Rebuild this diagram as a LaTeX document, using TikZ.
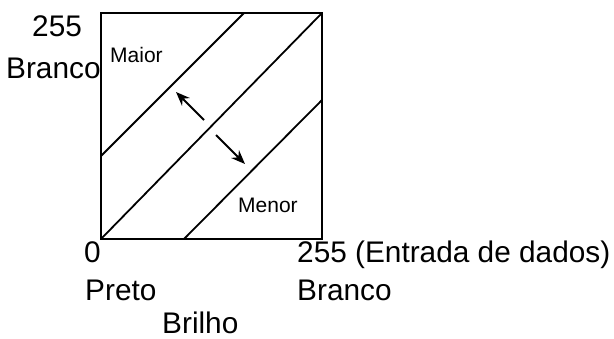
\documentclass[tikz,border=0pt]{standalone}
\usepackage{fontspec}
\setmainfont{Liberation Sans}
\usepackage{tikz}
\usetikzlibrary{arrows.meta, positioning}

\begin{document}
\begin{tikzpicture}[
    x=1pt, y=-1pt,
    biglabel/.style={anchor=base west, inner sep=0pt, font=\fontsize{29.8}{32}\selectfont},
    smalllabel/.style={anchor=base west, inner sep=0pt, font=\fontsize{21}{23}\selectfont},
    frame/.style={draw, line width=2.2pt},
    curve/.style={draw, line width=1.8pt},
    shiftarrow/.style={line width=1.8pt, -{Stealth[length=14pt, width=11pt]}}
]
    \useasboundingbox (0,0) rectangle (614,338);

    % Box corners
    \coordinate (bl) at (101,239);
    \coordinate (br) at (322,239);
    \coordinate (tr) at (322,13);
    \coordinate (tl) at (101,13);
    \draw[frame] (bl) -- (br) -- (tr) -- (tl) -- cycle;

    % Transfer lines
    \coordinate (upA) at (101,156);
    \coordinate (upB) at (244,13);
    \coordinate (loA) at (184,239);
    \coordinate (loB) at (322,100);
    \draw[curve] (upA) -- (upB);
    \draw[curve] (bl) -- (tr);
    \draw[curve] (loA) -- (loB);

    % Arrows
    \coordinate (a1s) at (204,120);
    \coordinate (a1e) at (176,92);
    \coordinate (a2s) at (216,135);
    \coordinate (a2e) at (245,164);
    \draw[shiftarrow] (a1s) -- (a1e);
    \draw[shiftarrow] (a2s) -- (a2e);

    % Labels
    \node[biglabel] (ymax) at (32,36) {255};
    \node[biglabel] (ywhite) at (6,78) {Branco};
    \node[smalllabel] (maior) at (110,62) {Maior};
    \node[smalllabel] (menor) at (238,212) {Menor};
    \node[biglabel] (xmin) at (84,262) {0};
    \node[biglabel] (xmax) at (297,262) {255 (Entrada de dados)};
    \node[biglabel] (black) at (85,300) {Preto};
    \node[biglabel] (xwhite) at (297,300) {Branco};
    \node[biglabel] (bright) at (162,333) {Brilho};

\end{tikzpicture}
\end{document}
